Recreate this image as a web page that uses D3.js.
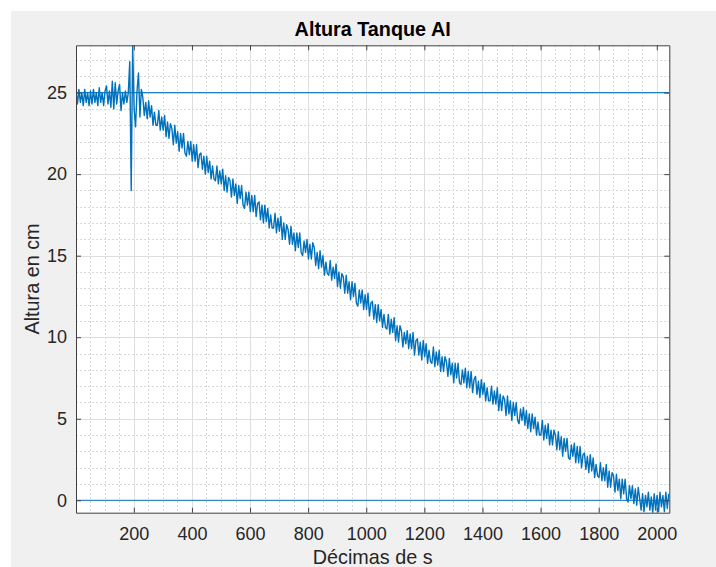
<!DOCTYPE html>
<html><head><meta charset="utf-8">
<script src="https://cdn.jsdelivr.net/npm/d3@7"></script>
<style>
body{margin:0;background:#fff}
svg{display:block}
text{font-family:"Liberation Sans",Arial,Helvetica,sans-serif}
</style>
</head><body>
<svg id="chart" width="716" height="567"></svg>
<script>
// ---- data ----
const titleText = "Altura Tanque AI";
const xLabelText = "Décimas de s";
const yLabelText = "Altura en cm";
const xTicks = [200, 400, 600, 800, 1000, 1200, 1400, 1600, 1800, 2000];
const yTicks = [0, 5, 10, 15, 20, 25];
const xLimits = [1, 2043];
const sampleStart = 1;     // first sample index (décimas de s)
const sampleStep = 5;      // spacing of the read samples
const refLevels = [25, 0]; // horizontal reference lines
const alturaCm = [
25.1,24.3,25.2,24.4,25.0,24.2,25.2,24.4,25.0,24.2,
25.1,24.3,25.2,24.4,25.0,24.2,25.3,24.4,25.0,24.2,
25.1,25.4,24.3,25.1,24.1,25.7,24.0,25.6,24.3,25.1,
25.5,23.9,25.0,24.3,25.1,24.4,25.0,
26.9,19.0,27.9,24.0,22.9,25.1,26.2,23.5,25.2,
24.7,23.6,24.4,23.4,24.5,23.5,24.2,23.0,23.8,23.0,
23.0,23.9,22.7,23.5,22.7,23.6,22.3,23.2,22.2,23.1,
22.8,21.8,23.0,21.9,22.6,21.4,22.5,21.6,22.5,21.3,
21.1,22.0,21.2,22.0,20.8,21.8,20.8,21.8,20.4,21.2,
21.3,20.3,21.1,20.0,21.1,20.1,20.8,19.7,20.5,19.7,
19.6,20.5,19.4,20.2,19.4,20.3,19.0,19.9,18.9,19.8,
19.6,18.6,19.7,18.7,19.4,18.2,19.3,18.5,19.3,18.1,
17.9,18.9,18.1,18.9,17.7,18.7,17.7,18.7,17.4,18.2,
18.3,17.2,18.1,17.0,18.1,17.1,17.9,16.7,17.5,16.7,
16.7,17.6,16.4,17.3,16.5,17.4,16.0,17.0,16.0,16.9,
16.6,15.7,16.8,15.7,16.4,15.3,16.4,15.5,16.4,15.2,
15.0,15.9,15.2,16.0,14.8,15.7,14.8,15.8,
15.5,14.4,15.2,14.2,15.3,14.3,15.0,13.8,14.6,13.9,
13.8,14.7,13.5,14.3,13.6,14.5,13.1,14.0,13.0,13.9,
13.7,12.7,13.8,12.7,13.4,12.3,13.4,12.5,13.3,12.1,
11.9,12.9,12.1,12.9,11.7,12.6,11.7,12.7,11.3,12.1,
12.2,11.1,12.0,10.9,12.0,11.0,11.7,10.6,11.4,10.6,
10.5,11.4,10.2,11.1,10.3,11.2,9.8,10.7,9.7,10.7,
10.4,
9.4,10.3,9.6,10.4,9.3,10.2,9.3,10.3,8.9,9.8,
9.9,8.9,9.7,8.6,9.8,8.8,9.6,8.4,9.2,8.5,
8.4,9.4,8.2,9.1,8.3,9.2,7.9,8.8,7.9,8.8,
8.5,7.6,8.7,7.7,8.4,7.2,8.4,7.5,8.4,7.2,
7.1,8.0,7.2,8.1,6.9,7.9,6.9,7.9,6.6,7.4,
7.6,6.5,7.3,6.3,7.4,6.5,7.2,6.1,6.9,6.1,
6.1,7.0,5.9,6.7,5.9,6.9,5.5,6.5,5.5,6.4,
6.2,5.2,6.4,5.3,6.1,4.9,6.0,5.2,6.0,4.9,
4.7,5.6,4.9,5.7,4.6,
5.5,4.4,5.3,4.2,5.3,4.4,5.1,4.0,4.8,4.0,
4.0,4.9,3.7,4.6,3.8,4.7,3.4,4.3,3.4,4.3,
4.0,3.1,4.2,3.1,3.9,2.7,3.8,3.0,3.8,2.6,
2.5,3.4,2.7,3.5,2.3,3.3,2.3,3.3,2.0,2.8,
2.9,1.9,2.7,1.7,2.8,1.8,2.6,1.4,2.2,1.5,
1.4,2.3,1.2,2.0,1.2,2.2,0.8,1.8,0.8,1.7,
1.5,0.5,1.6,0.6,1.3,0.1,1.3,0.4,1.3,0.1,
-0.1,0.9,0.1,0.9,-0.2,0.7,-0.3,0.8,
0.1,-0.6,0.4,-0.7,0.3,-0.4,0.5,-0.6,0.2,-0.76,
0.4,-0.6,0.3,-0.7,0.5,-0.4,0.3,-0.7,0.5,-0.5,0.4
];

// ---- drawing ----
const lineColor = "#0072BD";
const axisColor = "#404040";
const textColor = "#262626";
const L = 76, T = 45.3, R = 669.3, B = 512.7;

const svg = d3.select("#chart");
svg.append("rect").attr("x", 11).attr("y", 11).attr("width", 705).attr("height", 556).attr("fill", "#f0f0f0");
svg.append("rect").attr("x", L).attr("y", T).attr("width", R - L).attr("height", B - T).attr("fill", "#ffffff");

const x = d3.scaleLinear().domain(xLimits).range([L, R]);
const y = d3.scaleLinear().domain(d3.extent(alturaCm)).range([B, T]);

const points = alturaCm.map((v, i) => ({ t: sampleStart + i * sampleStep, v }));

// minor grid
const gMinor = svg.append("g").attr("stroke", "#d8d8d8").attr("stroke-width", 1).attr("stroke-dasharray", "2,2").attr("shape-rendering", "crispEdges");
const minorX = d3.range(50, xLimits[1], 50).filter(v => v % 200 !== 0);
const yDom = y.domain();
const minorY = d3.range(Math.ceil(yDom[0]), yDom[1], 1).filter(v => v % 5 !== 0);
gMinor.selectAll("line.mx").data(minorX).join("line").attr("class", "mx")
  .attr("x1", d => Math.round(x(d)) + 0.5).attr("x2", d => Math.round(x(d)) + 0.5).attr("y1", T).attr("y2", B);
gMinor.selectAll("line.my").data(minorY).join("line").attr("class", "my")
  .attr("y1", d => Math.round(y(d)) + 0.5).attr("y2", d => Math.round(y(d)) + 0.5).attr("x1", L).attr("x2", R);

// major grid
const gMajor = svg.append("g").attr("stroke", "#dedede").attr("stroke-width", 1).attr("shape-rendering", "crispEdges");
gMajor.selectAll("line.gx").data(xTicks).join("line").attr("class", "gx")
  .attr("x1", d => Math.round(x(d)) + 0.5).attr("x2", d => Math.round(x(d)) + 0.5).attr("y1", T).attr("y2", B);
gMajor.selectAll("line.gy").data(yTicks).join("line").attr("class", "gy")
  .attr("y1", d => Math.round(y(d)) + 0.5).attr("y2", d => Math.round(y(d)) + 0.5).attr("x1", L).attr("x2", R);

// clip
svg.append("clipPath").attr("id", "plotClip").append("rect")
  .attr("x", L).attr("y", T).attr("width", R - L).attr("height", B - T);

const plot = svg.append("g").attr("clip-path", "url(#plotClip)");

// reference lines
plot.selectAll("line.ref").data(refLevels).join("line").attr("class", "ref")
  .attr("x1", L).attr("x2", R).attr("y1", d => y(d)).attr("y2", d => y(d))
  .attr("stroke", lineColor).attr("stroke-width", 1);

// signal
const line = d3.line().x(d => x(d.t)).y(d => y(d.v));
plot.append("path").datum(points).attr("d", line)
  .attr("fill", "none").attr("stroke", lineColor).attr("stroke-width", 1.4).attr("stroke-linejoin", "round");

// axes
const fmt = d3.format("d");
function styleAxis(g) {
  g.select(".domain").attr("stroke", axisColor).attr("stroke-width", 1);
  g.selectAll(".tick line").attr("stroke", axisColor).attr("stroke-width", 1);
  g.selectAll(".tick text").attr("fill", textColor).attr("font-size", 18)
    .attr("font-family", '"Liberation Sans",Arial,Helvetica,sans-serif');
  g.attr("font-size", null).attr("font-family", null);
}
svg.append("g").attr("transform", `translate(0,${B})`)
  .call(d3.axisBottom(x).tickValues(xTicks).tickFormat(fmt).tickSizeInner(-5).tickSizeOuter(0).tickPadding(14.5))
  .call(styleAxis);
svg.append("g").attr("transform", `translate(0,${T})`)
  .call(d3.axisTop(x).tickValues(xTicks).tickSizeInner(-5).tickSizeOuter(0).tickFormat(""))
  .call(styleAxis);
svg.append("g").attr("transform", `translate(${L},0)`)
  .call(d3.axisLeft(y).tickValues(yTicks).tickFormat(fmt).tickSizeInner(-5).tickSizeOuter(0).tickPadding(9))
  .call(styleAxis);
svg.append("g").attr("transform", `translate(${R},0)`)
  .call(d3.axisRight(y).tickValues(yTicks).tickSizeInner(-5).tickSizeOuter(0).tickFormat(""))
  .call(styleAxis);

// texts
svg.append("text").attr("x", (L + R) / 2).attr("y", 36).attr("text-anchor", "middle")
  .attr("font-size", 19.8).attr("font-weight", "bold").attr("fill", "#000").text(titleText);
svg.append("text").attr("x", (L + R) / 2).attr("y", 564).attr("text-anchor", "middle")
  .attr("font-size", 19.8).attr("fill", textColor).text(xLabelText);
svg.append("text").attr("transform", `translate(39,${(T + B) / 2}) rotate(-90)`).attr("text-anchor", "middle")
  .attr("font-size", 19.8).attr("fill", textColor).text(yLabelText);
</script>
</body></html>
